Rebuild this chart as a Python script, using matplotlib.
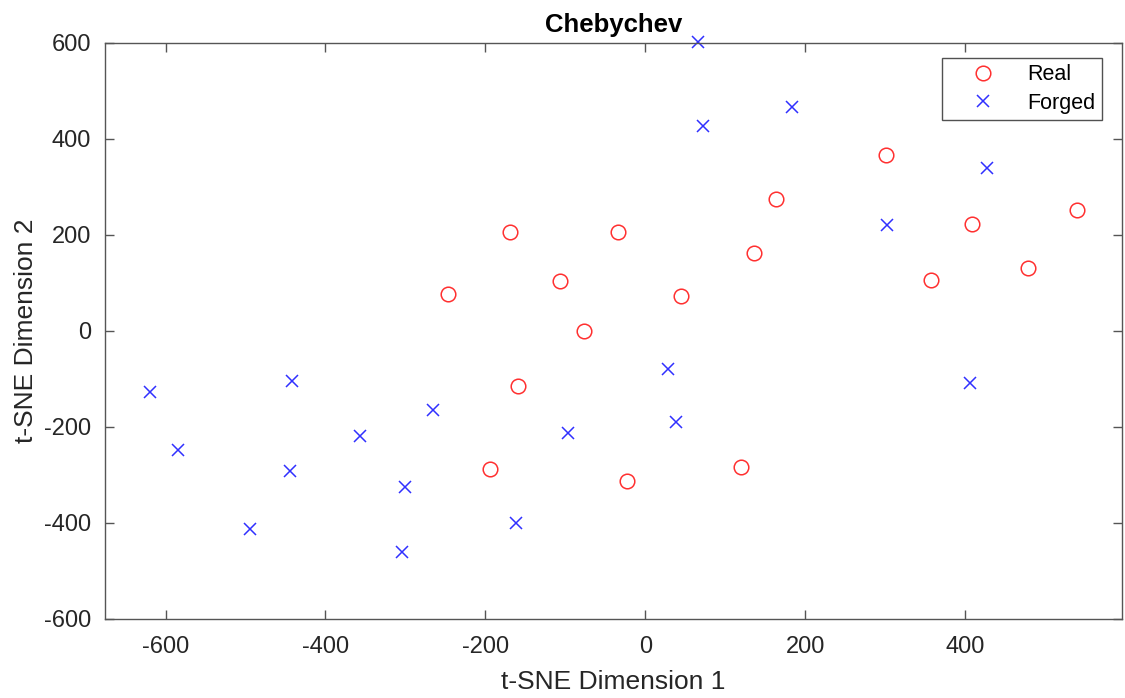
import numpy as np
import matplotlib
matplotlib.use("Agg")
import matplotlib.pyplot as plt

plt.rcParams['font.family'] = ['Liberation Sans', 'DejaVu Sans']
plt.rcParams['axes.unicode_minus'] = False

# t-SNE embedding, real samples
real_x = [-247, -194, -159, -169, -107, -77, -34, -23, 44, 119, 136, 164, 301, 357, 408, 479, 540]
real_y = [77, -288, -114, 207, 104, 0, 206, -312, 73, -283, 162, 275, 367, 106, 223, 131, 252]

# t-SNE embedding, forged samples
forged_x = [-620, -584, -494, -444, -442, -357, -300, -304, -266, -162, -97, 28, 38, 66, 72, 183, 302, 406, 427]
forged_y = [-128, -248, -412, -292, -104, -219, -324, -461, -164, -400, -212, -79, -190, 602, 428, 467, 220, -109, 339]

xticks = [-600, -400, -200, 0, 200, 400]
yticks = [-600, -400, -200, 0, 200, 400, 600]

fig = plt.figure(figsize=(11.25, 6.98), dpi=100)
ax = fig.add_axes([0.0931, 0.1132, 0.9042, 0.8252])

ax.plot(real_x, real_y, 'o', color='#ff3030', markerfacecolor='none',
        markersize=10.5, markeredgewidth=1.1, label='Real', clip_on=False)
ax.plot(forged_x, forged_y, 'x', color='#3030ff',
        markersize=8, markeredgewidth=1.1, label='Forged', clip_on=False)

ax.set_xlim(-676, 596)
ax.set_ylim(-600, 600)
ax.set_xticks(xticks)
ax.set_yticks(yticks)

axcol = '#262626'
for s in ax.spines.values():
    s.set_color('#555555')
    s.set_linewidth(1.0)
ax.tick_params(direction='in', length=6.5, width=1.0, color='#555555',
               top=True, right=True, labelsize=17, labelcolor=axcol)
ax.tick_params(axis='x', pad=12)
ax.tick_params(axis='y', pad=10)

ax.set_xlabel('t-SNE Dimension 1', fontsize=19, color=axcol, labelpad=9)
ax.set_ylabel('t-SNE Dimension 2', fontsize=19, color=axcol, labelpad=4)
ax.set_title('Chebychev', fontsize=18.5, fontweight='bold', pad=8)

leg = ax.legend(loc='upper right', fontsize=15.5, frameon=True, fancybox=False,
                borderpad=0.3, handlelength=3.2, handletextpad=0.45,
                borderaxespad=0, bbox_to_anchor=(0.9803, 0.974),
                labelspacing=0.35)
leg.get_frame().set_edgecolor('#262626')
leg.get_frame().set_linewidth(1.0)

plt.savefig('out.png', dpi=100)
